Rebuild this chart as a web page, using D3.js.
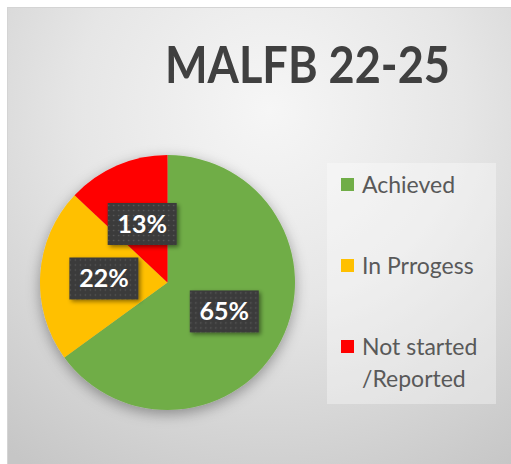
<!DOCTYPE html>
<html>
<head>
<meta charset="utf-8">
<script src="https://cdn.jsdelivr.net/npm/d3@7"></script>
<style>
  body { margin: 0; background: #fff; }
  svg { display: block; }
</style>
</head>
<body>
<div id="chart"></div>
<script>
// MALFB 22-25 status pie
const categories = ["Achieved", "In Prrogess", "Not started /Reported"];
const legendLines = [["Achieved"], ["In Prrogess"], ["Not started", "/Reported"]];
const values = [65, 22, 13];
const colors = ["#70ad47", "#ffc000", "#ff0000"];
const title = "MALFB 22-25";

const width = 511, height = 464;
const cx = 167.5, cy = 282.5, radius = 127.5;

let svg = d3.select("#chart")
    .append("svg")
    .attr("width", width)
    .attr("height", height);

let defs = svg.append("defs");

let bg = defs.append("radialGradient")
    .attr("id", "bg")
    .attr("gradientUnits", "userSpaceOnUse")
    .attr("cx", 270).attr("cy", 110).attr("r", 430);
bg.append("stop").attr("offset", "0%").attr("stop-color", "#f6f6f6");
bg.append("stop").attr("offset", "45%").attr("stop-color", "#e6e6e6");
bg.append("stop").attr("offset", "100%").attr("stop-color", "#c6c6c6");

let shadow = defs.append("filter").attr("id", "pieShadow")
    .attr("x", "-30%").attr("y", "-30%").attr("width", "160%").attr("height", "160%");
shadow.append("feDropShadow")
    .attr("dx", 0).attr("dy", 4).attr("stdDeviation", 7)
    .attr("flood-color", "#000").attr("flood-opacity", 0.35);

let boxShadow = defs.append("filter").attr("id", "boxShadow")
    .attr("x", "-30%").attr("y", "-30%").attr("width", "160%").attr("height", "160%");
boxShadow.append("feDropShadow")
    .attr("dx", 2).attr("dy", 2).attr("stdDeviation", 2)
    .attr("flood-color", "#000").attr("flood-opacity", 0.45);

// dotted texture of the label boxes
let pat = defs.append("pattern").attr("id", "dots")
    .attr("patternUnits", "userSpaceOnUse")
    .attr("width", 5).attr("height", 5);
pat.append("rect").attr("width", 5).attr("height", 5).attr("fill", "#3b3b3b");
pat.append("circle").attr("cx", 1.5).attr("cy", 1.5).attr("r", 0.8).attr("fill", "#5c5c5c");

// chart area
svg.append("rect")
    .attr("x", 7.5).attr("y", 7.5)
    .attr("width", width - 7).attr("height", height - 7)
    .attr("fill", "url(#bg)")
    .attr("stroke", "#d4d4d4");

svg.append("text")
    .attr("x", 165)
    .attr("y", 83)
    .attr("textLength", 285)
    .attr("lengthAdjust", "spacingAndGlyphs")
    .style("font-family", "Lato, 'Open Sans', sans-serif")
    .style("font-weight", "bold")
    .style("font-size", "52px")
    .attr("fill", "#404040")
    .text(title);

let pie = d3.pie().sort(null).value(d => d);
let arc = d3.arc().innerRadius(0).outerRadius(radius);
let arcs = pie(values);

let g = svg.append("g").attr("transform", `translate(${cx}, ${cy})`);

g.append("g")
    .attr("filter", "url(#pieShadow)")
    .selectAll("path")
    .data(arcs)
    .enter()
    .append("path")
    .attr("d", arc)
    .attr("fill", (d, i) => colors[i]);

// data labels
let labels = g.selectAll(".lbl")
    .data(arcs)
    .enter()
    .append("g")
    .attr("class", "lbl")
    .attr("transform", d => `translate(${arc.centroid(d)})`);

labels.append("rect")
    .attr("x", -34.5).attr("y", -21)
    .attr("width", 69).attr("height", 42)
    .attr("fill", "url(#dots)")
    .attr("filter", "url(#boxShadow)");

labels.append("text")
    .attr("text-anchor", "middle")
    .attr("dy", "0.36em")
    .attr("fill", "#fff")
    .style("font-family", "Lato, 'Open Sans', sans-serif")
    .style("font-weight", "bold")
    .style("font-size", "25px")
    .text(d => d.data + "%");

// legend
svg.append("rect")
    .attr("x", 327).attr("y", 163)
    .attr("width", 169).attr("height", 241)
    .attr("fill", "#ffffff")
    .attr("fill-opacity", 0.35);

let ly = d3.scalePoint()
    .domain(categories)
    .range([193, 355]);

let items = svg.selectAll(".leg")
    .data(categories)
    .enter()
    .append("g")
    .attr("class", "leg")
    .attr("transform", d => `translate(341, ${ly(d)})`);

items.append("rect")
    .attr("x", 0).attr("y", -15)
    .attr("width", 13).attr("height", 13)
    .attr("fill", (d, i) => colors[i]);

items.append("text")
    .attr("x", 21)
    .attr("fill", "#595959")
    .style("font-family", "Lato, 'Open Sans', sans-serif")
    .style("font-size", "23px")
    .selectAll("tspan")
    .data((d, i) => legendLines[i])
    .enter()
    .append("tspan")
    .attr("x", 21)
    .attr("dy", (d, i) => i === 0 ? 0 : 32)
    .text(d => d);
</script>
</body>
</html>
